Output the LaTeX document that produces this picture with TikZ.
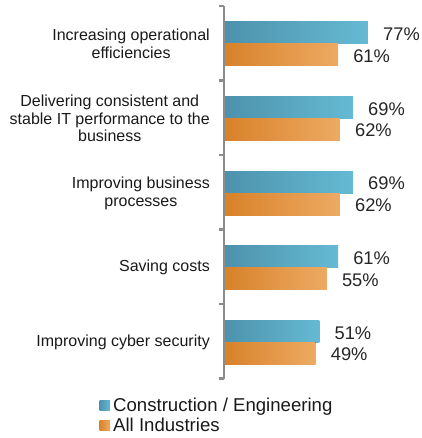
\documentclass[tikz,border=0pt]{standalone}
\usepackage{fontspec}
\setmainfont{Liberation Sans}
\begin{document}
\begin{tikzpicture}[x=1pt,y=-1pt,
  bluebar/.style={left color=blueL,right color=blueR,draw=none},
  orangebar/.style={left color=orangeL,right color=orangeR,draw=none},
  vallabel/.style={anchor=west,inner sep=0pt,font=\fontsize{18.3}{20}\selectfont,text=black!85},
  catlabel/.style={anchor=east,inner sep=0pt,align=center,font=\fontsize{16}{17.6}\selectfont,text=black!90},
  legtext/.style={anchor=base west,inner sep=0pt,font=\fontsize{18.6}{20}\selectfont,text=black!90},
  axisline/.style={draw=axisgray,line width=2.2pt}]
\definecolor{blueL}{HTML}{4D92AD}
\definecolor{blueR}{HTML}{65BAD3}
\definecolor{orangeL}{HTML}{D8822A}
\definecolor{orangeR}{HTML}{EDAA63}
\definecolor{axisgray}{HTML}{8C8C8C}
\useasboundingbox (0,0) rectangle (421,438);
% axis
\coordinate (axtop) at (224,6);
\coordinate (axbot) at (224,378.5);
\draw[axisline] (axtop) -- (axbot);
\foreach \i in {0,...,5}{
  \draw[axisline] (219,6+74.5*\i) -- (224,6+74.5*\i);
}
% bars
\def\s{1.87}
\foreach \i/\b/\o/\lab in {
  0/77/61/{Increasing operational\\efficiencies},
  1/69/62/{Delivering consistent and\\stable IT performance to the\\business},
  2/69/62/{Improving business\\processes},
  3/61/55/{Saving costs},
  4/51/49/{Improving cyber security}}{
  \pgfmathsetmacro{\t}{22+74.6*\i}
  \fill[bluebar] (225,\t) rectangle (224+\s*\b,\t+22);
  \fill[orangebar] (225,\t+22) rectangle (224+\s*\o,\t+44);
  \node[vallabel] (vb\i) at (224+\s*\b+15,\t+12.5) {\b\%};
  \node[vallabel] (vo\i) at (224+\s*\o+15,\t+34) {\o\%};
  \node[catlabel] (cat\i) at (210,\t+22) {\lab};
}
% legend
\fill[bluebar] (99.5,400.5) rectangle (110,410.5);
\fill[orangebar] (99.5,420.5) rectangle (110,430.5);
\node[legtext] (leg1) at (113,411.5) {Construction / Engineering};
\node[legtext] (leg2) at (113,431.5) {All Industries};
\end{tikzpicture}
\end{document}
